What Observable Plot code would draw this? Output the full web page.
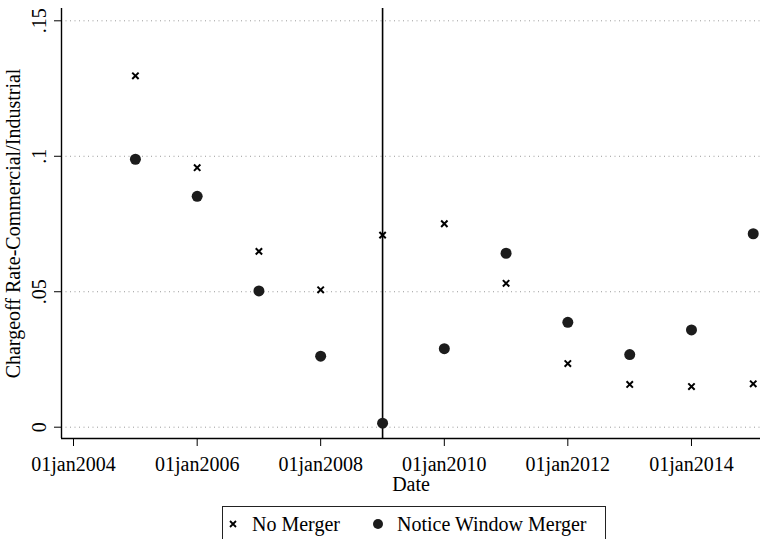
<!DOCTYPE html>
<html><head><meta charset="utf-8">
<script src="https://cdn.jsdelivr.net/npm/d3@7"></script>
<script src="https://cdn.jsdelivr.net/npm/@observablehq/plot@0.6"></script>
<style>
body{margin:0;background:#fff;font-family:"Liberation Serif","Times New Roman",serif;}
#chart{position:relative;width:761px;height:539px;overflow:hidden;background:#fff;}
#chart svg.plot{display:block;}
#legend{position:absolute;left:222px;top:506px;}
</style></head><body><div id="chart"></div>
<script>
const years = [2005, 2006, 2007, 2008, 2009, 2010, 2011, 2012, 2013, 2014, 2015];
const noMerger = [0.1297, 0.0958, 0.0649, 0.0507, 0.0709, 0.0751, 0.0531, 0.0235, 0.0158, 0.0150, 0.0160];
const noticeWindowMerger = [0.0989, 0.0852, 0.0503, 0.0262, 0.0015, 0.0290, 0.0642, 0.0387, 0.0268, 0.0359, 0.0714];
const xTickYears = [2004, 2006, 2008, 2010, 2012, 2014];
const yTicks = [0, 0.05, 0.1, 0.15];
const yTickLabels = ["0", ".05", ".1", ".15"];
const eventYear = 2009;
const seriesNames = ["No Merger", "Notice Window Merger"];
const yLabel = "Chargeoff Rate-Commercial/Industrial";
const xLabel = "Date";

const jan1 = y => new Date(Date.UTC(y, 0, 1));
const rows = [];
years.forEach((y, i) => {
  rows.push({date: jan1(y), value: noMerger[i], series: seriesNames[0]});
  rows.push({date: jan1(y), value: noticeWindowMerger[i], series: seriesNames[1]});
});
const xDomain = [new Date(Date.UTC(2003, 9, 22)), new Date(Date.UTC(2015, 1, 13))];
const yDomain = [-0.00417, 0.15454];
const font = '"Liberation Serif","Times New Roman",serif';

const chart = Plot.plot({
  width: 761,
  height: 505,
  marginLeft: 61,
  marginRight: 1,
  marginTop: 8,
  marginBottom: 67,
  style: {fontFamily: font, fontSize: "20px", color: "#000", background: "#fff"},
  x: {type: "utc", domain: xDomain},
  y: {domain: yDomain},
  marks: [
    Plot.gridY(yTicks, {stroke: "#9a9a9a", strokeOpacity: 1, strokeDasharray: "1,3.5", strokeWidth: 1}),
    Plot.ruleX([jan1(eventYear)], {stroke: "#000", strokeWidth: 1.6}),
    Plot.ruleY([yDomain[0]], {stroke: "#000", strokeWidth: 1.4}),
    Plot.ruleX([xDomain[0]], {stroke: "#000", strokeWidth: 1.4}),
    Plot.axisY({ticks: yTicks, tickFormat: (d) => yTickLabels[yTicks.indexOf(d)], tickSize: 7, tickPadding: 9,
      tickRotate: -90, textAnchor: "middle", lineAnchor: "bottom", fontSize: 20, stroke: "#000",
      label: yLabel, labelAnchor: "center", labelArrow: "none", labelOffset: 56}),
    Plot.axisX({ticks: xTickYears.map(jan1), tickFormat: d3.utcFormat("01jan%Y"), tickSize: 8, tickPadding: 10,
      fontSize: 20, stroke: "#000", label: xLabel, labelAnchor: "center", labelArrow: "none", labelOffset: 52}),
    Plot.dot(rows.filter(d => d.series === seriesNames[1]), {x: "date", y: "value", r: 5.5, fill: "#1c1c1c", stroke: "none"}),
    Plot.dot(rows.filter(d => d.series === seriesNames[0]), {x: "date", y: "value", r: 3, symbol: "times", stroke: "#000", strokeWidth: 2})
  ]
});
const host = document.getElementById("chart");
host.appendChild(chart);

// Legend (below the SVG)
const lg = d3.create("svg").attr("id", "legend").attr("width", 384).attr("height", 40)
  .style("font-family", font).style("font-size", "20px");
lg.append("rect").attr("x", 0.5).attr("y", 0.5).attr("width", 383).attr("height", 45)
  .attr("fill", "#fff").attr("stroke", "#222").attr("stroke-width", 1);
const cx = 11, cy = 18, s = 3;
lg.append("path").attr("d", `M${cx-s},${cy-s}L${cx+s},${cy+s}M${cx-s},${cy+s}L${cx+s},${cy-s}`)
  .attr("stroke", "#000").attr("stroke-width", 1.8);
lg.append("text").attr("x", 30).attr("y", 25).text(seriesNames[0]);
lg.append("circle").attr("cx", 156).attr("cy", 18).attr("r", 5).attr("fill", "#1c1c1c");
lg.append("text").attr("x", 175).attr("y", 25).text(seriesNames[1]);
host.appendChild(lg.node());
</script>
</body></html>
